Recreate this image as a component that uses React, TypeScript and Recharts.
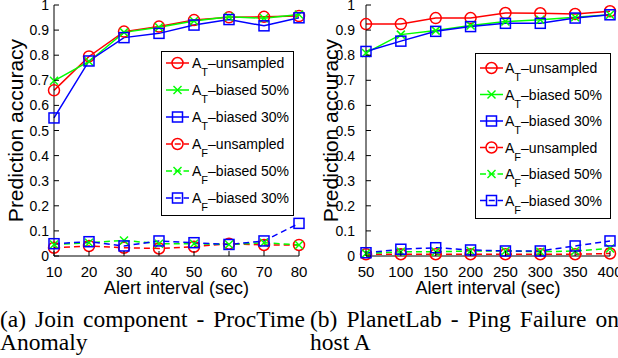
import { Legend, Line, LineChart, XAxis, YAxis } from "recharts"

// (a) Join component - ProcTime anomaly
const JOIN_X = [10, 20, 30, 40, 50, 60, 70, 80]
const JOIN_AT_UNSAMPLED = [0.66, 0.795, 0.894, 0.914, 0.94, 0.951, 0.953, 0.956]
const JOIN_AT_BIASED50 = [0.698, 0.775, 0.891, 0.911, 0.936, 0.953, 0.947, 0.962]
const JOIN_AT_BIASED30 = [0.55, 0.777, 0.87, 0.887, 0.92, 0.942, 0.917, 0.949]
const JOIN_AF_UNSAMPLED = [0.033, 0.04, 0.033, 0.03, 0.037, 0.049, 0.044, 0.044]
const JOIN_AF_BIASED50 = [0.046, 0.053, 0.062, 0.049, 0.049, 0.046, 0.053, 0.044]
const JOIN_AF_BIASED30 = [0.049, 0.057, 0.04, 0.06, 0.053, 0.046, 0.06, 0.13]

// (b) PlanetLab - ping failure on host A
const PING_X = [50, 100, 150, 200, 250, 300, 350, 400]
const PING_AT_UNSAMPLED = [0.924, 0.924, 0.948, 0.948, 0.968, 0.967, 0.964, 0.975]
const PING_AT_BIASED50 = [0.809, 0.882, 0.898, 0.918, 0.934, 0.941, 0.951, 0.961]
const PING_AT_BIASED30 = [0.815, 0.856, 0.895, 0.914, 0.927, 0.927, 0.948, 0.961]
const PING_AF_UNSAMPLED = [0.007, 0.007, 0.007, 0.007, 0.007, 0.007, 0.007, 0.01]
const PING_AF_BIASED50 = [0.01, 0.017, 0.017, 0.02, 0.02, 0.017, 0.02, 0.03]
const PING_AF_BIASED30 = [0.013, 0.027, 0.033, 0.024, 0.02, 0.02, 0.04, 0.06]

const Y_TICKS = [0, 0.1, 0.2, 0.3, 0.4, 0.5, 0.6, 0.7, 0.8, 0.9, 1]

const SERIES = [
  { key: "atUnsampled", sub: "T", label: "unsampled", color: "#ff0000", dashed: false, marker: "circle" },
  { key: "atBiased50", sub: "T", label: "biased 50%", color: "#00ff00", dashed: false, marker: "x" },
  { key: "atBiased30", sub: "T", label: "biased 30%", color: "#0000ff", dashed: false, marker: "square" },
  { key: "afUnsampled", sub: "F", label: "unsampled", color: "#ff0000", dashed: true, marker: "circle" },
  { key: "afBiased50", sub: "F", label: "biased 50%", color: "#00ff00", dashed: true, marker: "x" },
  { key: "afBiased30", sub: "F", label: "biased 30%", color: "#0000ff", dashed: true, marker: "square" },
]

const FONT = "'Liberation Sans', Arial, Helvetica, sans-serif"

function buildRows(xs: number[], cols: number[][]) {
  return xs.map((x, i) => {
    const row: Record<string, number> = { x }
    SERIES.forEach((s, j) => {
      row[s.key] = cols[j][i]
    })
    return row
  })
}

const joinRows = buildRows(JOIN_X, [
  JOIN_AT_UNSAMPLED,
  JOIN_AT_BIASED50,
  JOIN_AT_BIASED30,
  JOIN_AF_UNSAMPLED,
  JOIN_AF_BIASED50,
  JOIN_AF_BIASED30,
])

const pingRows = buildRows(PING_X, [
  PING_AT_UNSAMPLED,
  PING_AT_BIASED50,
  PING_AT_BIASED30,
  PING_AF_UNSAMPLED,
  PING_AF_BIASED50,
  PING_AF_BIASED30,
])

function Marker({ cx, cy, shape, color }: { cx?: number; cy?: number; shape: string; color: string }) {
  if (cx == null || cy == null) return null
  if (shape === "circle") {
    return <circle cx={cx} cy={cy} r={5.5} fill="none" stroke={color} strokeWidth={1.5} />
  }
  if (shape === "square") {
    return <rect x={cx - 5} y={cy - 5} width={10} height={10} fill="none" stroke={color} strokeWidth={1.5} />
  }
  return (
    <g stroke={color} strokeWidth={1.5}>
      <line x1={cx - 4} y1={cy - 4} x2={cx + 4} y2={cy + 4} />
      <line x1={cx - 4} y1={cy + 4} x2={cx + 4} y2={cy - 4} />
    </g>
  )
}

function LegendBox({ w, h, first, step, lineX, textX }: { w: number; h: number; first: number; step: number; lineX: number; textX: number }) {
  return (
    <svg width={w} height={h} style={{ display: "block" }}>
      <rect x={0.5} y={0.5} width={w - 1} height={h - 1} fill="#fff" stroke="#000" strokeWidth={1} />
      {SERIES.map((s, i) => {
        const cy = first + i * step
        const mid = lineX + 11.5
        return (
          <g key={s.key}>
            <line
              x1={lineX}
              y1={cy}
              x2={lineX + 23}
              y2={cy}
              stroke={s.color}
              strokeWidth={1.5}
              strokeDasharray={s.dashed ? "6 2.75" : undefined}
            />
            <Marker cx={mid} cy={cy} shape={s.marker} color={s.color} />
            <text x={textX} y={cy + 5} fontFamily={FONT} fontSize={14} fill="#000">
              A
              <tspan dy={8} fontSize={11}>{s.sub}</tspan>
              <tspan dy={-8}>{"\u2013" + s.label}</tspan>
            </text>
          </g>
        )
      })}
    </svg>
  )
}

type PanelProps = {
  rows: Record<string, number>[]
  xTicks: number[]
  width: number
  yAxisWidth: number
  marginRight: number
  tickGap: number
  titleBase: number
  legend: { left: number; top: number; w: number; h: number; first: number; step: number; lineX: number; textX: number }
}

function Panel({ rows, xTicks, width, yAxisWidth, marginRight, tickGap, titleBase, legend }: PanelProps) {
  const domain = [xTicks[0], xTicks[xTicks.length - 1]]

  const bottomTick = (p: any) => (
    <g>
      <line x1={p.x} y1={p.y} x2={p.x} y2={p.y - 5} stroke="#000" />
      <text x={p.x} y={p.y + 21} textAnchor="middle" fontFamily={FONT} fontSize={15} fill="#000">
        {p.payload.value}
      </text>
    </g>
  )
  const topTick = (p: any) => <line x1={p.x} y1={p.y} x2={p.x} y2={p.y + 5} stroke="#000" />
  const leftTick = (p: any) => (
    <g>
      <line x1={p.x} y1={p.y} x2={p.x + 5} y2={p.y} stroke="#000" />
      <text x={p.x - tickGap} y={p.y + 5} textAnchor="end" fontFamily={FONT} fontSize={14} fill="#000">
        {String(p.payload.value)}
      </text>
    </g>
  )
  const rightTick = (p: any) => <line x1={p.x} y1={p.y} x2={p.x - 5} y2={p.y} stroke="#000" />

  const xTitle = (p: any) => {
    const vb = p.viewBox || {}
    return (
      <text x={vb.x + vb.width / 2} y={vb.y + 38} textAnchor="middle" fontFamily={FONT} fontSize={18} fill="#000">
        Alert interval (sec)
      </text>
    )
  }
  const yTitle = (p: any) => {
    const vb = p.viewBox || {}
    const x = vb.x + titleBase
    const y = vb.y + vb.height / 2
    return (
      <text x={x} y={y} transform={`rotate(-90 ${x} ${y})`} textAnchor="middle" fontFamily={FONT} fontSize={21} fill="#000">
        Prediction accuracy
      </text>
    )
  }

  return (
    <LineChart width={width} height={300} data={rows} margin={{ top: 5, right: marginRight, left: 0, bottom: 0 }}>
      <XAxis
        dataKey="x"
        type="number"
        domain={domain}
        ticks={xTicks}
        interval={0}
        height={44}
        tickSize={0}
        tickMargin={0}
        axisLine={{ stroke: "#000" }}
        tickLine={false}
        tick={bottomTick}
        label={xTitle}
      />
      <XAxis
        xAxisId="top"
        orientation="top"
        dataKey="x"
        type="number"
        domain={domain}
        ticks={xTicks}
        interval={0}
        height={0}
        tickSize={0}
        tickMargin={0}
        axisLine={{ stroke: "#000" }}
        tickLine={false}
        tick={topTick}
      />
      <YAxis
        type="number"
        domain={[0, 1]}
        ticks={Y_TICKS}
        interval={0}
        width={yAxisWidth}
        tickSize={0}
        tickMargin={0}
        axisLine={{ stroke: "#000" }}
        tickLine={false}
        tick={leftTick}
        label={yTitle}
      />
      <YAxis
        yAxisId="right"
        orientation="right"
        type="number"
        domain={[0, 1]}
        ticks={Y_TICKS}
        interval={0}
        width={0}
        tickSize={0}
        tickMargin={0}
        axisLine={{ stroke: "#000" }}
        tickLine={false}
        tick={rightTick}
      />
      {SERIES.map((s) => (
        <Line
          key={s.key}
          type="linear"
          dataKey={s.key}
          name={s.label}
          stroke={s.color}
          strokeWidth={1.5}
          strokeDasharray={s.dashed ? "6 4" : undefined}
          dot={(p: any) => <Marker key={`${s.key}-${p.index}`} cx={p.cx} cy={p.cy} shape={s.marker} color={s.color} />}
          activeDot={false}
          isAnimationActive={false}
        />
      ))}
      <Legend
        layout="horizontal"
        verticalAlign="middle"
        align="center"
        wrapperStyle={{ left: legend.left, top: legend.top, width: legend.w, height: legend.h }}
        content={() => (
          <LegendBox w={legend.w} h={legend.h} first={legend.first} step={legend.step} lineX={legend.lineX} textX={legend.textX} />
        )}
      />
    </LineChart>
  )
}

const captionStyle = {
  position: "absolute" as const,
  fontFamily: "'Liberation Serif', 'Times New Roman', serif",
  fontSize: 23.5,
  lineHeight: "23px",
  color: "#000",
  whiteSpace: "nowrap" as const,
}

export default function App() {
  return (
    <div style={{ position: "absolute", left: 0, top: 0, width: 618, height: 358, overflow: "hidden", background: "#fff" }}>
      <div style={{ position: "absolute", left: 0, top: 0 }}>
        <Panel
          rows={joinRows}
          xTicks={JOIN_X}
          width={310}
          yAxisWidth={54}
          marginRight={11}
          tickGap={5}
          titleBase={23}
          legend={{ left: 161, top: 51, w: 133, h: 165, first: 12, step: 27, lineX: 5, textX: 31 }}
        />
      </div>
      <div style={{ position: "absolute", left: 305, top: 0 }}>
        <Panel
          rows={pingRows}
          xTicks={PING_X}
          width={313}
          yAxisWidth={61}
          marginRight={8}
          tickGap={11}
          titleBase={33}
          legend={{ left: 170, top: 53, w: 136, h: 166, first: 15, step: 26.5, lineX: 5, textX: 30 }}
        />
      </div>
      <div style={{ ...captionStyle, left: 0, top: 307.5, width: 305, textAlign: "justify", textAlignLast: "justify" }}>
        (a) Join component - ProcTime
      </div>
      <div style={{ ...captionStyle, left: 0, top: 330.5 }}>Anomaly</div>
      <div style={{ ...captionStyle, left: 310, top: 307.5, width: 309, textAlign: "justify", textAlignLast: "justify" }}>
        (b) PlanetLab - Ping Failure on
      </div>
      <div style={{ ...captionStyle, left: 310, top: 330.5 }}>host A</div>
    </div>
  )
}
